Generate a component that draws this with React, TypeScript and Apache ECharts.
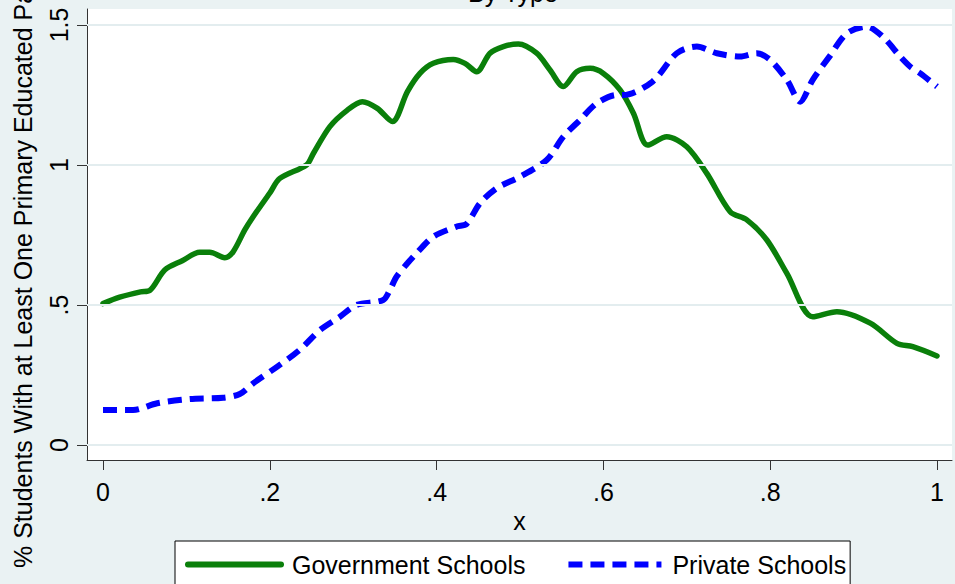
import React, { useEffect, useRef } from "react";
import * as echarts from "echarts";

// Smoothed shares by school type, sampled along x
const govX = [0, 0.02, 0.045, 0.056, 0.074, 0.095, 0.116, 0.128, 0.146, 0.156, 0.17, 0.18, 0.2, 0.212, 0.244, 0.252, 0.272, 0.293, 0.311, 0.329, 0.347, 0.365, 0.38, 0.396, 0.42, 0.434, 0.448, 0.464, 0.48, 0.498, 0.52, 0.536, 0.552, 0.568, 0.584, 0.6, 0.62, 0.636, 0.653, 0.676, 0.7, 0.724, 0.752, 0.772, 0.796, 0.82, 0.851, 0.88, 0.92, 0.952, 0.971, 1.0];
const govY = [0.505, 0.528, 0.547, 0.552, 0.625, 0.658, 0.688, 0.688, 0.669, 0.69, 0.768, 0.815, 0.9, 0.952, 1.0, 1.04, 1.137, 1.196, 1.226, 1.202, 1.155, 1.262, 1.327, 1.363, 1.377, 1.363, 1.333, 1.399, 1.423, 1.432, 1.399, 1.339, 1.28, 1.333, 1.345, 1.327, 1.268, 1.185, 1.071, 1.101, 1.065, 0.97, 0.833, 0.804, 0.732, 0.613, 0.458, 0.476, 0.435, 0.363, 0.351, 0.318];

const priX = [0, 0.036, 0.065, 0.104, 0.144, 0.164, 0.18, 0.209, 0.236, 0.26, 0.284, 0.304, 0.336, 0.344, 0.352, 0.365, 0.376, 0.396, 0.424, 0.436, 0.452, 0.472, 0.5, 0.532, 0.552, 0.572, 0.592, 0.616, 0.624, 0.659, 0.688, 0.712, 0.736, 0.764, 0.784, 0.8, 0.82, 0.836, 0.851, 0.871, 0.892, 0.916, 0.935, 0.956, 0.968, 0.98, 1.0];
const priY = [0.125, 0.125, 0.149, 0.164, 0.169, 0.182, 0.22, 0.28, 0.34, 0.41, 0.458, 0.5, 0.518, 0.554, 0.601, 0.649, 0.685, 0.744, 0.78, 0.79, 0.863, 0.917, 0.958, 1.018, 1.101, 1.161, 1.22, 1.25, 1.25, 1.298, 1.399, 1.423, 1.399, 1.387, 1.399, 1.375, 1.304, 1.226, 1.304, 1.387, 1.47, 1.494, 1.458, 1.387, 1.351, 1.327, 1.28];

const xTicks = [0, 0.2, 0.4, 0.6, 0.8, 1];
const yTicks = [0, 0.5, 1, 1.5];

const seriesNames = ["Government Schools", "Private Schools"];
const titleText = "By Type";
const xTitle = "x";
const yTitle = "% Students With at Least One Primary Educated Parent";

const FONT = "'Liberation Sans', Arial, Helvetica, sans-serif";
const GREEN = "#0A7F0A";
const BLUE = "#0000FF";

const fmtTick = (v: number) => {
  if (v === 0) return "0";
  const s = String(Math.round(v * 10) / 10);
  return s.startsWith("0.") ? s.slice(1) : s;
};

export default function App() {
  const ref = useRef<HTMLDivElement>(null);

  useEffect(() => {
    if (!ref.current) return;
    const chart = echarts.init(ref.current, undefined, { renderer: "svg" });

    const gov = govX.map((x, i) => [x, govY[i]]);
    const pri = priX.map((x, i) => [x, priY[i]]);

    chart.setOption({
      animation: false,
      backgroundColor: "#EAF2F3",
      textStyle: { fontFamily: FONT },
      grid: {
        left: 87,
        top: 9,
        right: 3,
        bottom: 124,
        show: true,
        backgroundColor: "#ffffff",
        borderWidth: 0,
      },
      xAxis: {
        type: "value",
        min: -0.0192,
        max: 1.018,
        name: xTitle,
        nameLocation: "middle",
        nameGap: 37,
        nameTextStyle: { fontSize: 25, color: "#000", fontFamily: FONT },
        axisLine: { show: true, onZero: false, lineStyle: { color: "#333", width: 1 } },
        axisTick: { show: true, length: 10, customValues: xTicks, lineStyle: { color: "#333" } },
        axisLabel: {
          customValues: xTicks,
          formatter: (v: number) => fmtTick(v),
          fontSize: 25,
          color: "#000",
          margin: 19,
          fontFamily: FONT,
        },
        splitLine: { show: false },
      },
      yAxis: {
        type: "value",
        min: -0.0536,
        max: 1.557,
        axisLine: { show: true, onZero: false, lineStyle: { color: "#333", width: 1 } },
        axisTick: { show: true, length: 10, customValues: yTicks, lineStyle: { color: "#333" } },
        axisLabel: {
          customValues: yTicks,
          formatter: (v: number) => fmtTick(v),
          rotate: 90,
          fontSize: 25,
          color: "#000",
          margin: 16,
          fontFamily: FONT,
        },
        splitLine: { show: false },
      },
      legend: {
        data: seriesNames,
        left: 175,
        top: 541,
        itemWidth: 93,
        itemHeight: 8,
        itemGap: 40,
        padding: [11, 4, 30, 10],
        backgroundColor: "#ffffff",
        borderColor: "#000",
        borderWidth: 1,
        borderRadius: 0,
        itemStyle: { color: "rgba(0,0,0,0)", borderColor: "rgba(0,0,0,0)", borderWidth: 0 },
        lineStyle: { width: 6 },
        textStyle: { fontSize: 25, color: "#000", fontFamily: FONT, padding: [0, 0, 0, 6] },
      },
      graphic: [
        {
          type: "text",
          x: 513,
          y: -7,
          style: {
            text: titleText,
            font: `25px ${FONT}`,
            fill: "#000",
            textAlign: "center",
            textVerticalAlign: "middle",
          },
        },
        {
          type: "text",
          x: 23,
          y: 568,
          rotation: Math.PI / 2,
          style: {
            text: yTitle,
            font: `25px ${FONT}`,
            fill: "#000",
            textAlign: "left",
            textVerticalAlign: "middle",
          },
        },
      ],
      series: [
        {
          name: "grid",
          type: "line",
          data: [],
          z: 1,
          silent: true,
          markLine: {
            silent: true,
            symbol: "none",
            label: { show: false },
            lineStyle: { color: "#E3EDEF", width: 2, type: "solid" },
            data: yTicks.map((v) => ({ yAxis: v })),
          },
        },
        {
          name: seriesNames[0],
          type: "line",
          data: gov,
          smooth: 0.3,
          symbol: "none",
          z: 3,
          lineStyle: { color: GREEN, width: 5.5, cap: "round", join: "round" },
          itemStyle: { color: GREEN },
        },
        {
          name: seriesNames[1],
          type: "line",
          data: pri,
          smooth: 0.3,
          symbol: "none",
          z: 4,
          lineStyle: { color: BLUE, width: 6, type: [14, 8] },
          itemStyle: { color: BLUE },
        },
      ],
    });

    return () => chart.dispose();
  }, []);

  return (
    <div
      ref={ref}
      style={{ position: "fixed", left: 0, top: 0, width: 955, height: 584 }}
    />
  );
}
